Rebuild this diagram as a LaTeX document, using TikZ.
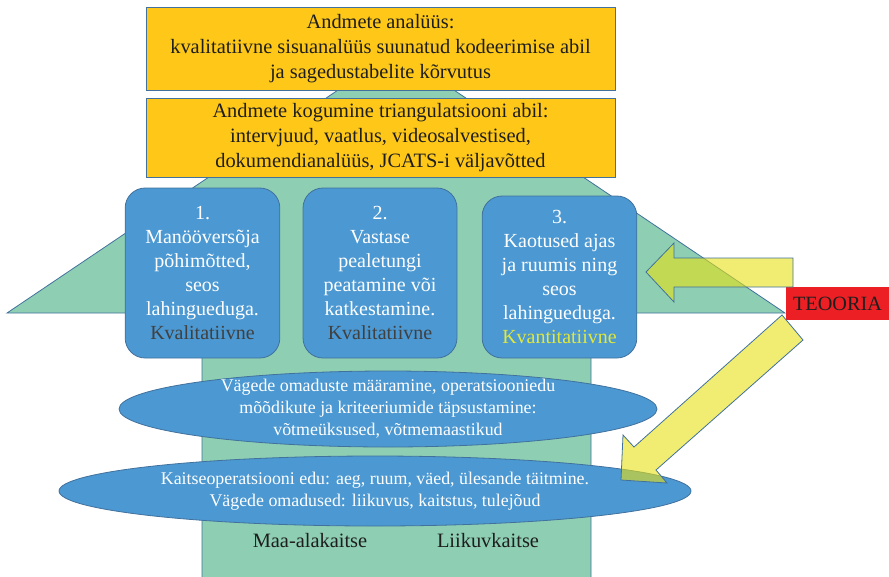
\documentclass[tikz,border=0pt]{standalone}
\usepackage{fontspec}
\setmainfont{Liberation Serif}
\usetikzlibrary{shapes.geometric, positioning}

\definecolor{roheline}{RGB}{142,207,180}
\definecolor{sinine}{RGB}{75,152,210}
\definecolor{serv}{RGB}{65,113,156}
\definecolor{kollane}{RGB}{255,200,25}
\definecolor{noolek}{RGB}{230,225,20}
\definecolor{punane}{RGB}{236,32,36}
\definecolor{hall}{RGB}{64,64,64}
\definecolor{helekollane}{RGB}{225,232,60}
\definecolor{tume}{RGB}{30,30,30}

\begin{document}
\begin{tikzpicture}[
				x=0.75pt, y=-0.75pt,
				ybox/.style={draw=serv, fill=kollane, line width=0.6pt, minimum width=351.75pt, inner sep=1pt, align=center, text=tume, font=\fontsize{15.3pt}{18.75pt}\selectfont},
				rbox/.style={draw=serv, fill=sinine, line width=0.6pt, rounded corners=15pt, minimum width=116pt, inner sep=1pt, align=center, text=white, font=\fontsize{15pt}{18pt}\selectfont},
				oval/.style={draw=serv, fill=sinine, line width=0.6pt, ellipse, inner sep=0pt},
				otext/.style={align=center, text=white, font=\fontsize{13.4pt}{16.5pt}\selectfont},
				silt/.style={text=tume, font=\fontsize{15.3pt}{18pt}\selectfont},
				noolekuju/.style={draw=serv, fill=noolek, fill opacity=0.6, line width=0.6pt}
				]
				
				\useasboundingbox (0,0) rectangle (889,576);
				
				% Suur nool
				\fill[roheline] (202,577) -- (202,313) -- (7,313) -- (396,51) -- (785,313) -- (591,313) -- (591,577) -- cycle;
				\draw[serv, line width=0.6pt] (202,577) -- (202,313) -- (7,313) -- (396,51) -- (785,313) -- (591,313) -- (591,577);
				
				% Kollased kastid
				\node[ybox, minimum height=62.25pt] (analyys) at (380.5,48.5)
				{Andmete analüüs:\\ kvalitatiivne sisuanalüüs suunatud kodeerimise abil\\ ja sagedustabelite kõrvutus};
				\node[ybox, minimum height=59.25pt] (kogumine) at (380.5,137.5)
				{Andmete kogumine triangulatsiooni abil:\\ intervjuud, vaatlus, videosalvestised,\\ dokumendianalüüs, JCATS-i väljavõtted};
				
				% Põhimõtted
				\node[rbox, minimum height=127.5pt] (P1) at (202.5,273)
				{1.\\ Manööversõja\\ põhimõtted,\\ seos\\ lahingueduga.\\ \textcolor{hall}{Kvalitatiivne}};
				\node[rbox, minimum width=115.5pt, minimum height=127.5pt] (P2) at (380,273)
				{2.\\ Vastase\\ pealetungi\\ peatamine või\\ katkestamine.\\ \textcolor{hall}{Kvalitatiivne}};
				\node[rbox, minimum height=121.5pt] (P3) at (559.5,277)
				{3.\\ Kaotused ajas\\ ja ruumis ning\\ seos\\ lahingueduga.\\ \textcolor{helekollane}{Kvantitatiivne}};
				
				% Ovaalid
				\node[oval, minimum width=403.5pt, minimum height=57pt] (omadused) at (388,409) {};
				\node[otext] at (omadused) {Vägede omaduste määramine, operatsiooniedu\\ mõõdikute ja kriteeriumide täpsustamine:\\ võtmeüksused, võtmemaastikud};
				\node[oval, minimum width=474pt, minimum height=52.5pt] (edu) at (375,491) {};
				\node[otext] at (edu) {Kaitseoperatsiooni edu: aeg, ruum, väed, ülesande täitmine.\\ Vägede omadused: liikuvus, kaitstus, tulejõud};
				
				% Kaitseviisid
				\node[silt] (maa) at (310,541) {Maa-alakaitse};
				\node[silt] (liikuv) at (488,541) {Liikuvkaitse};
				
				% Teooria
				\node[fill=punane, minimum width=77.25pt, minimum height=24.75pt, inner sep=0pt, text=tume, font=\fontsize{15.2pt}{18pt}\selectfont] (teooria) at (837.5,303.5) {TEOORIA};
				
				% Nooled
				\path[noolekuju] (793,258) -- (793,287) -- (674,287) -- (674,302) -- (646,272) -- (674,243) -- (674,258) -- cycle;
				\path[noolekuju] (782,315) -- (803,340) -- (656,470) -- (667,483) -- (621,480) -- (623,435) -- (634,447) -- cycle;
				
			\end{tikzpicture}
\end{document}
